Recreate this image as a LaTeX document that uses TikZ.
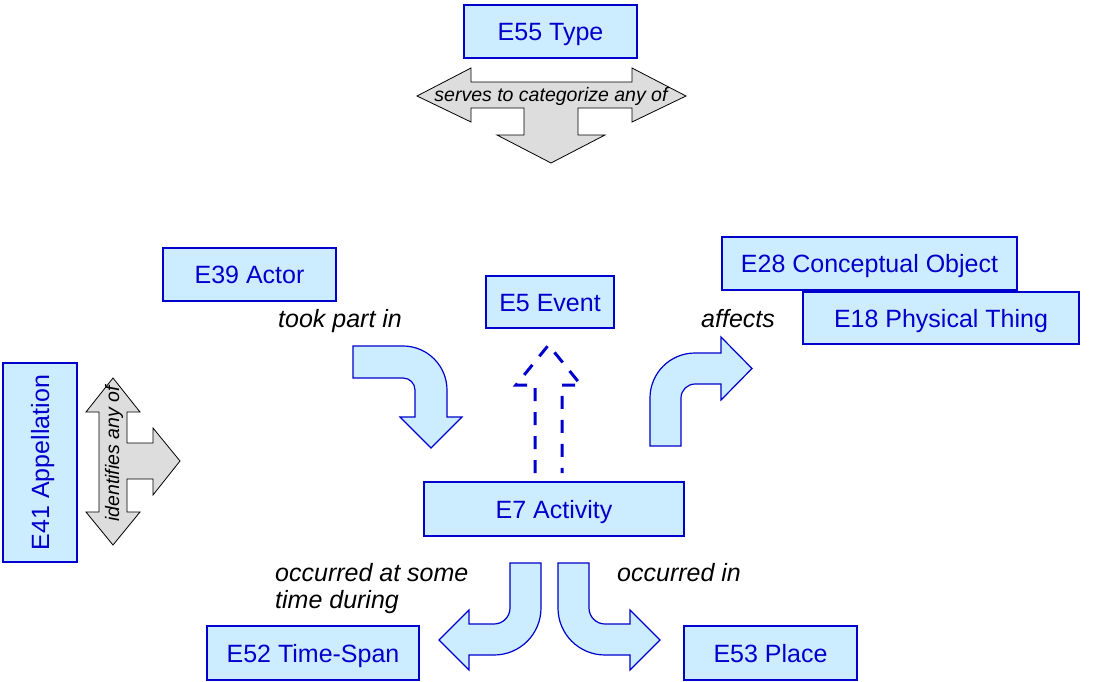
\documentclass[tikz,border=0pt]{standalone}
\usepackage{fontspec}
\setmainfont{Liberation Sans}
\definecolor{boxfill}{RGB}{204,236,255}
\definecolor{boxblue}{RGB}{0,0,204}
\definecolor{grayfill}{RGB}{221,221,221}
\begin{document}
\begin{tikzpicture}[x=1pt,y=-1pt,
  cls/.style={draw=boxblue, fill=boxfill, line width=1.3pt, text=boxblue,
    font=\fontsize{25}{27}\selectfont, inner sep=0pt, outer sep=0pt,
    text height=18pt, text depth=0pt},
  lbl/.style={font=\fontsize{25}{27}\selectfont\itshape, inner sep=0pt, align=left},
  glbl/.style={font=\fontsize{19.5}{21}\selectfont\itshape, inner sep=0pt},
  blockarrow/.style={draw=boxblue, fill=boxfill, line width=1.2pt, line join=miter},
  grayarrow/.style={draw=black, fill=grayfill, line width=0.8pt, line join=miter},
  dasharrow/.style={draw=boxblue, line width=3pt, dash pattern=on 13pt off 11pt}]
\useasboundingbox (0,0) rectangle (1098,681);

% boxes
\node[cls, minimum width=173pt, minimum height=53pt] (type) at (550.5,31.5) {E55 Type};
\node[cls, minimum width=173pt, minimum height=53pt] (actor) at (249.5,274.5) {E39 Actor};
\node[cls, minimum width=128pt, minimum height=52pt] (event) at (550,302) {E5 Event};
\node[cls, minimum width=295pt, minimum height=53pt] (concobj) at (869.5,263.5) {E28 Conceptual Object};
\node[cls, minimum width=276pt, minimum height=52pt] (phys) at (941,318) {E18 Physical Thing};
\node[cls, minimum width=199pt, minimum height=74pt, rotate=90] (appel) at (40,462.5) {E41 Appellation};
\node[cls, minimum width=260pt, minimum height=54pt] (act) at (554,509) {E7 Activity};
\node[cls, minimum width=212pt, minimum height=54pt] (timespan) at (313,653) {E52 Time-Span};
\node[cls, minimum width=173pt, minimum height=54pt] (place) at (770.5,653) {E53 Place};

% gray arrow: serves to categorize any of
\draw[grayarrow] (417,96) -- (471,68) -- (471,82) -- (632,82) -- (632,68) -- (686,96)
  -- (632,122) -- (632,108) -- (578,108) -- (578,135) -- (605,135) -- (551,163)
  -- (497,135) -- (524,135) -- (524,108) -- (471,108) -- (471,122) -- cycle;
\node[glbl] (serves) at (551,96) {serves to categorize any of};

% gray arrow: identifies any of
\draw[grayarrow] (113,378) -- (140,412) -- (127,412) -- (127,443) -- (153,443) -- (153,428)
  -- (180,461) -- (153,495) -- (153,479) -- (127,479) -- (127,512) -- (140,512)
  -- (113,545) -- (86,512) -- (99,512) -- (99,412) -- (86,412) -- cycle;
\node[glbl, rotate=90] (ident) at (114,454) {identifies any of};

% took part in
\draw[blockarrow] (353,346) -- (403,346) .. controls (427.3,346) and (447,365.7) .. (447,390)
  -- (447,417) -- (462,417) -- (431,448) -- (400,417) -- (415,417) -- (415,390)
  .. controls (415,383.4) and (409.6,378) .. (403,378) -- (353,378) -- cycle;
\node[lbl, anchor=base west] (tookpart) at (278,327) {took part in};

% affects
\draw[blockarrow] (650,446) -- (650,398) .. controls (650,373.1) and (670.1,353) .. (695,353)
  -- (721,353) -- (721,337) -- (752,368.5) -- (721,400) -- (721,384) -- (695,384)
  .. controls (687.3,384) and (681,390.3) .. (681,398) -- (681,446) -- cycle;
\node[lbl, anchor=base west] (affects) at (701,327) {affects};

% E5 dashed
\draw[dasharrow] (535,473) -- (535,385) -- (516,385) -- (548.5,345) -- (581,385) -- (562,385) -- (562,473);

% occurred at some time during
\draw[blockarrow] (510,563) -- (541,563) -- (541,608) .. controls (541,634) and (520,655) .. (494,655)
  -- (469,655) -- (469,670) -- (439,640) -- (469,610) -- (469,624) -- (494,624)
  .. controls (502.8,624) and (510,616.8) .. (510,608) -- cycle;
\node[lbl, anchor=base west] (occsome) at (275,608) {occurred at some\\time during};

% occurred in
\draw[blockarrow] (589,563) -- (558,563) -- (558,608) .. controls (558,634) and (579,655) .. (605,655)
  -- (630,655) -- (630,670) -- (660,640) -- (630,610) -- (630,624) -- (605,624)
  .. controls (596.2,624) and (589,616.8) .. (589,608) -- cycle;
\node[lbl, anchor=base west] (occin) at (617,581) {occurred in};
\end{tikzpicture}
\end{document}
